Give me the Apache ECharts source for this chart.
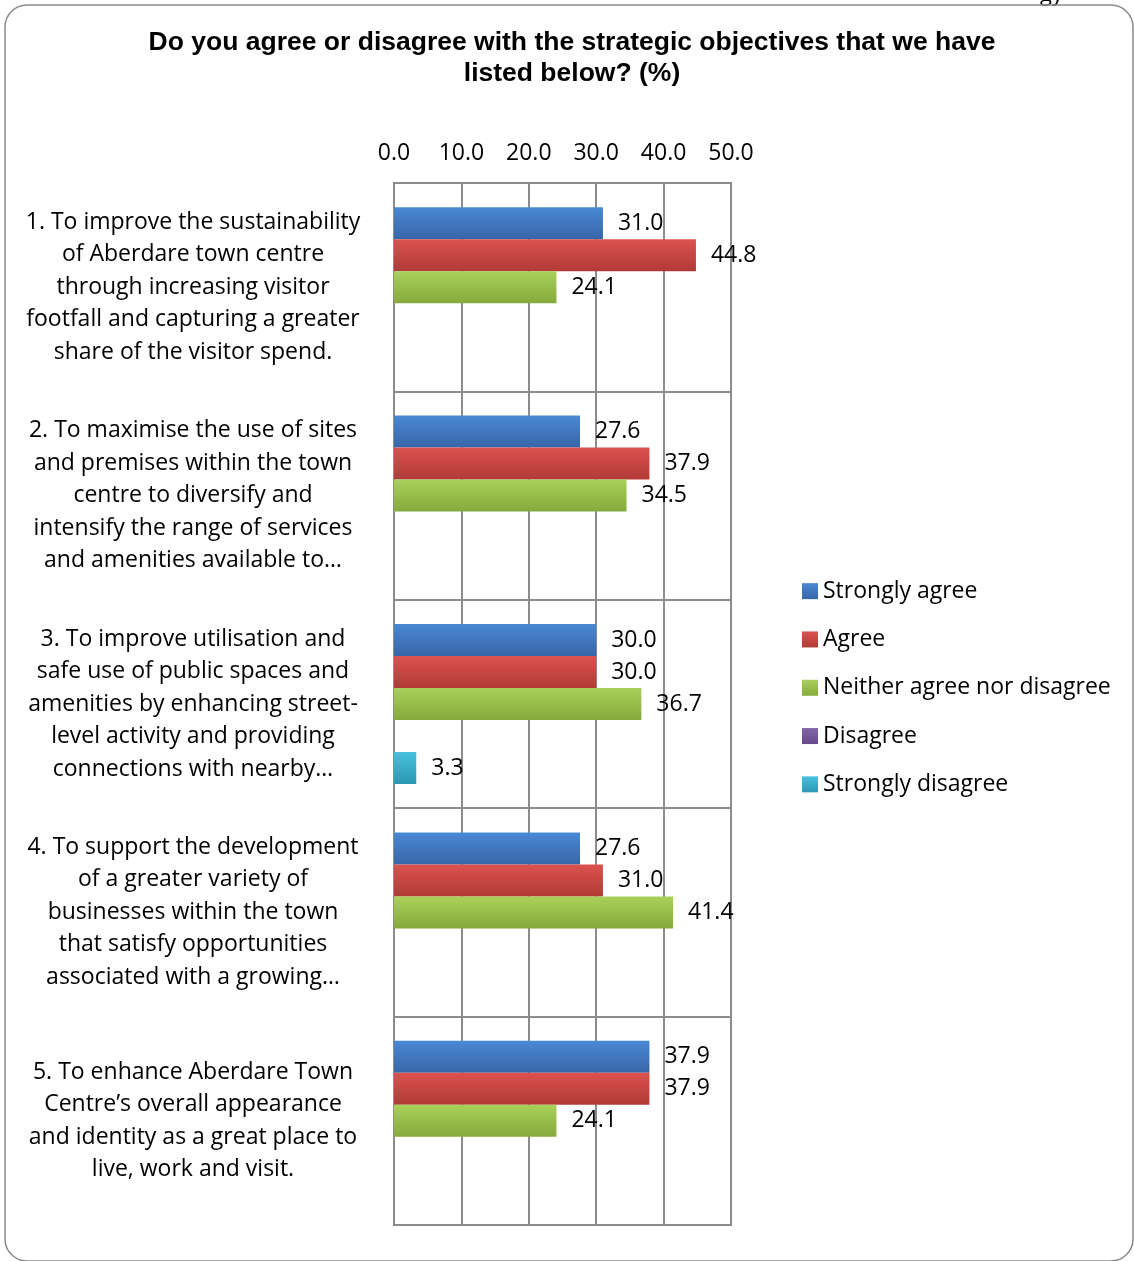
<!DOCTYPE html>
<html><head><meta charset="utf-8">
<script src="https://cdn.jsdelivr.net/npm/echarts@6/dist/echarts.min.js"></script>
<style>html,body{margin:0;padding:0;background:#fff}#c{width:1134px;height:1261px}</style>
</head><body><div id="c"></div>
<script>
const categories = [
  "1. To improve the sustainability\nof Aberdare town centre\nthrough increasing visitor\nfootfall and capturing a greater\nshare of the visitor spend.",
  "2. To maximise the use of sites\nand premises within the town\ncentre to diversify and\nintensify the range of services\nand amenities available to…",
  "3. To improve utilisation and\nsafe use of public spaces and\namenities by enhancing street-\nlevel activity and providing\nconnections with nearby…",
  "4. To support the development\nof a greater variety of\nbusinesses within the town\nthat satisfy opportunities\nassociated with a growing…",
  "5. To enhance Aberdare Town\nCentre’s overall appearance\nand identity as a great place to\nlive, work and visit."
];
const seriesNames = ["Strongly agree", "Agree", "Neither agree nor disagree", "Disagree", "Strongly disagree"];
const stronglyAgree = [31.0, 27.6, 30.0, 27.6, 37.9];
const agree = [44.8, 37.9, 30.0, 31.0, 37.9];
const neither = [24.1, 34.5, 36.7, 41.4, 24.1];
const disagree = [null, null, null, null, null];
const stronglyDisagree = [null, null, 3.3, null, null];
const xTicks = [0, 10, 20, 30, 40, 50];

const values = [stronglyAgree, agree, neither, disagree, stronglyDisagree];
const grads = [
  ['#4a88d4', '#3766a8'],
  ['#dc524f', '#b13a37'],
  ['#a9d159', '#86a93c'],
  ['#8466a8', '#65498a'],
  ['#45c2de', '#2b98b2']
];
const font = '"Open Sans", Lato, sans-serif';
const chart = echarts.init(document.getElementById('c'), null, {renderer: 'canvas'});
const gc = '#8c8c8c';
chart.setOption({
  animation: false,
  backgroundColor: '#fff',
  title: {
    text: 'Do you agree or disagree with the strategic objectives that we have\nlisted below? (%)',
    left: 572, top: 27, padding: 0, textAlign: 'center',
    textStyle: {fontFamily: '"Liberation Sans", Arial, sans-serif', fontWeight: 'bold', fontSize: 26.5, lineHeight: 31, color: '#000'}
  },
  legend: {
    orient: 'vertical', left: 802, top: 576, padding: 0,
    itemWidth: 16, itemHeight: 16, itemGap: 18,
    icon: 'rect',
    textStyle: {fontFamily: font, fontSize: 23, lineHeight: 30.3, color: '#000'},
    data: seriesNames
  },
  grid: {left: 394, right: 403, top: 183, bottom: 36, show: true, borderColor: gc, borderWidth: 2},
  xAxis: {
    type: 'value', position: 'top', min: 0, max: 50, interval: 10,
    axisLine: {show: false}, axisTick: {show: false},
    splitLine: {show: true, lineStyle: {color: gc, width: 2}},
    axisLabel: {margin: 18, fontFamily: font, fontSize: 23, color: '#000',
      formatter: v => xTicks.includes(v) ? v.toFixed(1) : ''}
  },
  yAxis: {
    type: 'category', inverse: true, data: categories,
    axisLine: {show: true, lineStyle: {color: gc, width: 2}}, axisTick: {show: false},
    splitLine: {show: true, lineStyle: {color: gc, width: 2}},
    axisLabel: {margin: 201, align: 'center', fontFamily: font, fontSize: 23, lineHeight: 32.5, padding: [6, 0, 0, 0], color: '#000'}
  },
  series: seriesNames.map((name, i) => ({
    name, type: 'bar', data: values[i], barWidth: 32, barGap: '0%',
    itemStyle: {color: new echarts.graphic.LinearGradient(0, 0, 0, 1, [{offset: 0, color: grads[i][0]}, {offset: 1, color: grads[i][1]}])},
    label: {show: true, position: 'right', distance: 15, fontFamily: font, fontSize: 23, color: '#000',
      formatter: p => (p.value == null ? '' : Number(p.value).toFixed(1))}
  })),
  graphic: [
    {type: 'rect', shape: {x: 5, y: 5, width: 1128, height: 1256, r: 22}, style: {fill: 'none', stroke: '#8a8a8a', lineWidth: 1.5}, z: 100},
    {type: 'text', left: 1040, top: -16, style: {text: 'gy', font: '22px "Open Sans", sans-serif', fill: '#000'}}
  ]
});
</script></body></html>
